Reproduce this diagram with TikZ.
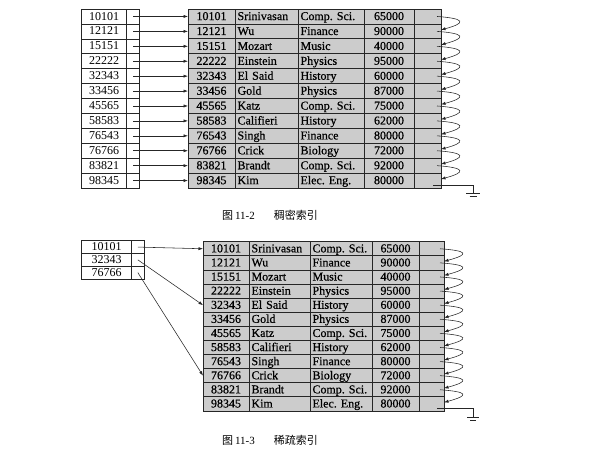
\documentclass[tikz,border=0pt]{standalone}
\usepackage{fontspec}
\setmainfont{Liberation Serif}
\newfontfamily\tabfont[FakeBold=0.6]{Liberation Serif}
\newfontfamily\cjk{Noto Sans CJK SC}
\usetikzlibrary{arrows.meta}
\frenchspacing
\begin{document}
\begin{tikzpicture}[x=1pt,y=-1pt,
  cell/.style={draw=black!85, line width=0.8pt, fill=gray!40, inner sep=0pt, outer sep=0pt, anchor=north west, text height=8.2pt, text depth=1pt, font=\tabfont\fontsize{12}{13}\selectfont},
  cellL/.style={cell, inner xsep=2.5pt, align=left, text width=#1},
  icell/.style={cell, fill=white, line width=0.6pt, font=\fontsize{12}{13}\selectfont},
  ptr/.style={-{Latex[length=4.5pt,width=3.2pt]}, line width=0.55pt, black!85},
  chain/.style={ptr},
  gnd/.style={line width=0.6pt, black!85},
  caption/.style={anchor=west, inner sep=0pt, font=\fontsize{11}{12}\selectfont}
]
\useasboundingbox[fill=white] (0,0) rectangle (596,454);

% ---------- Figure 11-2: dense index ----------
\foreach \i/\kid/\nm/\dept/\sal in {1/10101/Srinivasan/Comp. Sci./65000, 2/12121/Wu/Finance/90000, 3/15151/Mozart/Music/40000, 4/22222/Einstein/Physics/95000, 5/32343/El Said/History/60000, 6/33456/Gold/Physics/87000, 7/45565/Katz/Comp. Sci./75000, 8/58583/Califieri/History/62000, 9/76543/Singh/Finance/80000, 10/76766/Crick/Biology/72000, 11/83821/Brandt/Comp. Sci./92000, 12/98345/Kim/Elec. Eng./80000}{
  \pgfmathsetmacro\yy{9+(\i-1)*14.92}
  \node[cell, minimum width=47pt, minimum height=14.92pt] (Tid\i) at (188,\yy) {\kid};
  \node[cellL=58pt, minimum height=14.92pt] (Tnm\i) at (235,\yy) {\nm};
  \node[cellL=61pt, minimum height=14.92pt] (Tdp\i) at (298,\yy) {\dept};
  \node[cell, minimum width=50pt, minimum height=14.92pt] (Tsl\i) at (364,\yy) {\sal};
  \node[cell, minimum width=27pt, minimum height=14.92pt] (Tpt\i) at (414,\yy) {};
  \node[icell, minimum width=44.7pt, minimum height=14.92pt] (TK\i) at (81.7,\yy) {\kid};
  \node[icell, minimum width=13.3pt, minimum height=14.92pt] (TP\i) at (126.4,\yy) {};
  \draw[ptr] (TP\i.center) -- (Tid\i.west);
}
\foreach \i [evaluate=\i as \j using int(\i+1)] in {1,...,11}{
  \draw[chain] ([xshift=-4pt]Tpt\i.east) .. controls +(28,2) and +(26,-7) .. ([yshift=1.5pt]Tpt\j.east);
}
\coordinate (TGs) at (433,185);
\coordinate (TGa) at (473,185);
\coordinate (TGb) at (473,193);
\coordinate (TGl) at (466,193);
\coordinate (TGr) at (480,193);
\coordinate (TGl2) at (469.5,196);
\coordinate (TGr2) at (476.5,196);
\draw[gnd] (TGs) -- (TGa) -- (TGb);
\draw[gnd] (TGl) -- (TGr);
\draw[gnd] (TGl2) -- (TGr2);

\node[caption] (cap1) at (222,215) {{\cjk 图}\,11-2\hspace{19pt}{\cjk 稠密索引}};

% ---------- Figure 11-3: sparse index ----------
\foreach \i/\kid/\nm/\dept/\sal in {1/10101/Srinivasan/Comp. Sci./65000, 2/12121/Wu/Finance/90000, 3/15151/Mozart/Music/40000, 4/22222/Einstein/Physics/95000, 5/32343/El Said/History/60000, 6/33456/Gold/Physics/87000, 7/45565/Katz/Comp. Sci./75000, 8/58583/Califieri/History/62000, 9/76543/Singh/Finance/80000, 10/76766/Crick/Biology/72000, 11/83821/Brandt/Comp. Sci./92000, 12/98345/Kim/Elec. Eng./80000}{
  \pgfmathsetmacro\yy{241.7+(\i-1)*14.1}
  \node[cell, minimum width=46pt, minimum height=14.1pt] (Bid\i) at (203,\yy) {\kid};
  \node[cellL=56pt, minimum height=14.1pt] (Bnm\i) at (249,\yy) {\nm};
  \node[cellL=57pt, minimum height=14.1pt] (Bdp\i) at (310,\yy) {\dept};
  \node[cell, minimum width=47pt, minimum height=14.1pt] (Bsl\i) at (372,\yy) {\sal};
  \node[cell, minimum width=25pt, minimum height=14.1pt] (Bpt\i) at (419,\yy) {};
}
\foreach \i/\kid in {1/10101, 2/32343, 3/76766}{
  \pgfmathsetmacro\yy{240.7+(\i-1)*12.77}
  \node[icell, minimum width=50pt, minimum height=12.77pt] (BK\i) at (81.7,\yy) {\kid};
  \node[icell, minimum width=12.3pt, minimum height=12.77pt] (BP\i) at (131.7,\yy) {};
}
\draw[ptr] (BP1.center) -- (Bid1.west);
\draw[ptr] (BP2.center) -- (Bid5.west);
\draw[ptr] (BP3.center) -- (Bid10.west);
\foreach \i [evaluate=\i as \j using int(\i+1)] in {1,...,11}{
  \draw[chain] ([xshift=-4pt]Bpt\i.east) .. controls +(28,2) and +(26,-7) .. ([yshift=1.5pt]Bpt\j.east);
}
\coordinate (BGs) at (437,408);
\coordinate (BGa) at (473,408);
\coordinate (BGb) at (473,417);
\coordinate (BGl) at (467,417);
\coordinate (BGr) at (479,417);
\coordinate (BGl2) at (470,420);
\coordinate (BGr2) at (476,420);
\draw[gnd] (BGs) -- (BGa) -- (BGb);
\draw[gnd] (BGl) -- (BGr);
\draw[gnd] (BGl2) -- (BGr2);

\node[caption] (cap2) at (222,440) {{\cjk 图}\,11-3\hspace{19pt}{\cjk 稀疏索引}};
\end{tikzpicture}
\end{document}
